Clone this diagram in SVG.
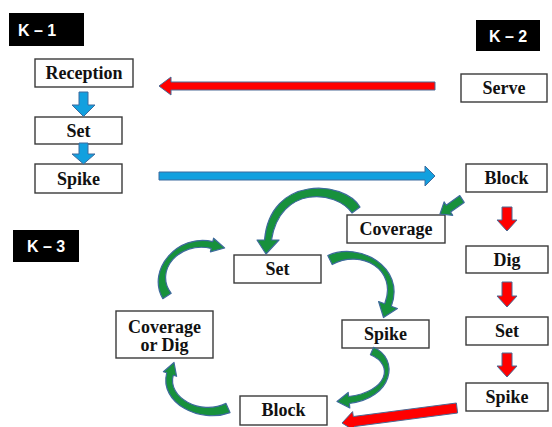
<svg xmlns="http://www.w3.org/2000/svg" width="552" height="427" viewBox="0 0 552 427">
  <style>
    .box { fill: #ffffff; stroke: #3a3a3a; stroke-width: 1.4; }
    .lbl { font-weight: bold; font-size: 18px; fill: #111111; text-anchor: middle; }
    .tag { fill: #000000; }
    .tagtxt { font-weight: bold; font-size: 16px; fill: #ffffff; text-anchor: middle; }
    .blue { fill: #12a0df; stroke: #3d6b9e; stroke-width: 1; }
    .red { fill: #ff0000; stroke: #4a6a95; stroke-width: 1; }
    .green { fill: #17913c; stroke: #3e6a9c; stroke-width: 1.2; stroke-linejoin: round; }
  </style>

  <!-- section tags -->
  <g font-family="Liberation Sans, Arial, sans-serif">
    <g id="tag-k1"><rect class="tag" x="9" y="13" width="75" height="33"/><text class="tagtxt" x="37" y="35.5">K – 1</text></g>
    <g id="tag-k2"><rect class="tag" x="476" y="20" width="64" height="31"/><text class="tagtxt" x="508" y="41.5">K – 2</text></g>
    <g id="tag-k3"><rect class="tag" x="13" y="230" width="66" height="32"/><text class="tagtxt" x="46" y="252">K – 3</text></g>
  </g>

  <g font-family="Liberation Serif, DejaVu Serif, serif">
    <!-- K-1 column -->
    <g id="k1-reception"><rect class="box" x="35" y="59" width="98" height="28"/><text class="lbl" x="84" y="79">Reception</text></g>
    <g id="k1-set"><rect class="box" x="35" y="117" width="87" height="27"/><text class="lbl" x="78.5" y="136.5">Set</text></g>
    <g id="k1-spike"><rect class="box" x="35" y="164" width="87" height="29"/><text class="lbl" x="78.5" y="184.5">Spike</text></g>

    <!-- K-2 column -->
    <g id="k2-serve"><rect class="box" x="461" y="74" width="86" height="28"/><text class="lbl" x="504" y="94">Serve</text></g>
    <g id="k2-block"><rect class="box" x="466" y="164" width="81" height="28"/><text class="lbl" x="506.5" y="184">Block</text></g>
    <g id="k2-dig"><rect class="box" x="466" y="246" width="82" height="27"/><text class="lbl" x="507" y="265.5">Dig</text></g>
    <g id="k2-set"><rect class="box" x="466" y="317" width="82" height="28"/><text class="lbl" x="507" y="337">Set</text></g>
    <g id="k2-spike"><rect class="box" x="466" y="383" width="82" height="28"/><text class="lbl" x="507" y="403">Spike</text></g>

    <!-- K-3 cycle -->
    <g id="k3-coverage"><rect class="box" x="347" y="215" width="98" height="28"/><text class="lbl" x="396" y="235">Coverage</text></g>
    <g id="k3-set"><rect class="box" x="234" y="255" width="87" height="28"/><text class="lbl" x="277.5" y="275">Set</text></g>
    <g id="k3-spike"><rect class="box" x="342" y="320" width="87" height="28"/><text class="lbl" x="385.5" y="340">Spike</text></g>
    <g id="k3-block"><rect class="box" x="240" y="396" width="87" height="29"/><text class="lbl" x="283.5" y="416">Block</text></g>
    <g id="k3-coverage-or-dig"><rect class="box" x="116" y="311" width="97" height="47"/><text class="lbl" x="164.5" y="332.5" font-size="17">Coverage</text><text class="lbl" x="164.5" y="351" font-size="17">or Dig</text></g>
  </g>

  <g id="connectors">
    <!-- K-1 down arrows -->
    <path class="blue" d="M79,92 H88 V105 H95 L83.5,116.5 L72,105 H79 Z"/>
    <path class="blue" d="M79,143 H88 V154 H95 L83.5,164 L72,154 H79 Z"/>
    <!-- Serve back to Reception -->
    <path class="red" d="M435,82 V90 H171 V95 L159,86 L171,77 V82 Z"/>
    <!-- Spike across to Block -->
    <path class="blue" d="M159,172 H425 V166 L435,176 L425,186 V180 H159 Z"/>
    <!-- K-2 down arrows -->
    <path class="red" d="M502,207 H512 V220 H517 L507,231 L497,220 H502 Z"/>
    <path class="red" d="M502,282 H512 V296 H517 L507,307 L497,296 H502 Z"/>
    <path class="red" d="M502,353 H512 V366 H517 L507,377 L497,366 H502 Z"/>
    <!-- Block to Coverage -->
    <path class="green" d="M464.2,202.4 L450.6,212 L452.7,215.3 L440,214 L444.1,201.9 L446.2,205.2 L459.8,195.6 Z"/>
    <!-- K-2 Spike into K-3 Block -->
    <path class="red" d="M457.6,413 L354.5,426.5 L355.2,431.4 L342,423 L352.6,411.6 L353.3,416.5 L456.4,403 Z"/>

    <!-- K-3 curved arrows -->
    <!-- Coverage to Set -->
    <path class="green" d="M360,207 C344,180 270,175 264.5,240 L257,240 L266,254 L279,240 L271.5,240 C280,185 336,190 352,213 Z"/>
    <!-- Set to Spike -->
    <path class="green" d="M327.8,255.5 C359,241 406,267 391.3,306.2 L397.4,308.5 L383.5,317.5 L378.6,301.5 L384.7,303.8 C398,269 361,249 332.2,264.5 Z"/>
    <!-- Spike to Block -->
    <path class="green" d="M373.6,347.3 C400,359 393,398 349.4,403.5 L349.8,408 L337,401.5 L348.2,392.5 L348.6,396.5 C387,392 395,365 370.4,354.7 Z"/>
    <!-- Block to Coverage or Dig -->
    <path class="green" d="M230,412.6 C200,424 159,403 166.7,372.8 L163.4,371.7 L174,362.5 L176.6,376.3 L173.3,375.2 C167,397 200,416 226,403.4 Z"/>
    <!-- Coverage or Dig to Set -->
    <path class="green" d="M162.8,298.7 C146,270 178,233 212.8,241.6 L213.6,238.2 L224.6,248 L210.4,251.8 L211.2,248.4 C179,241 154,271 171.2,293.3 Z"/>
  </g>
</svg>
